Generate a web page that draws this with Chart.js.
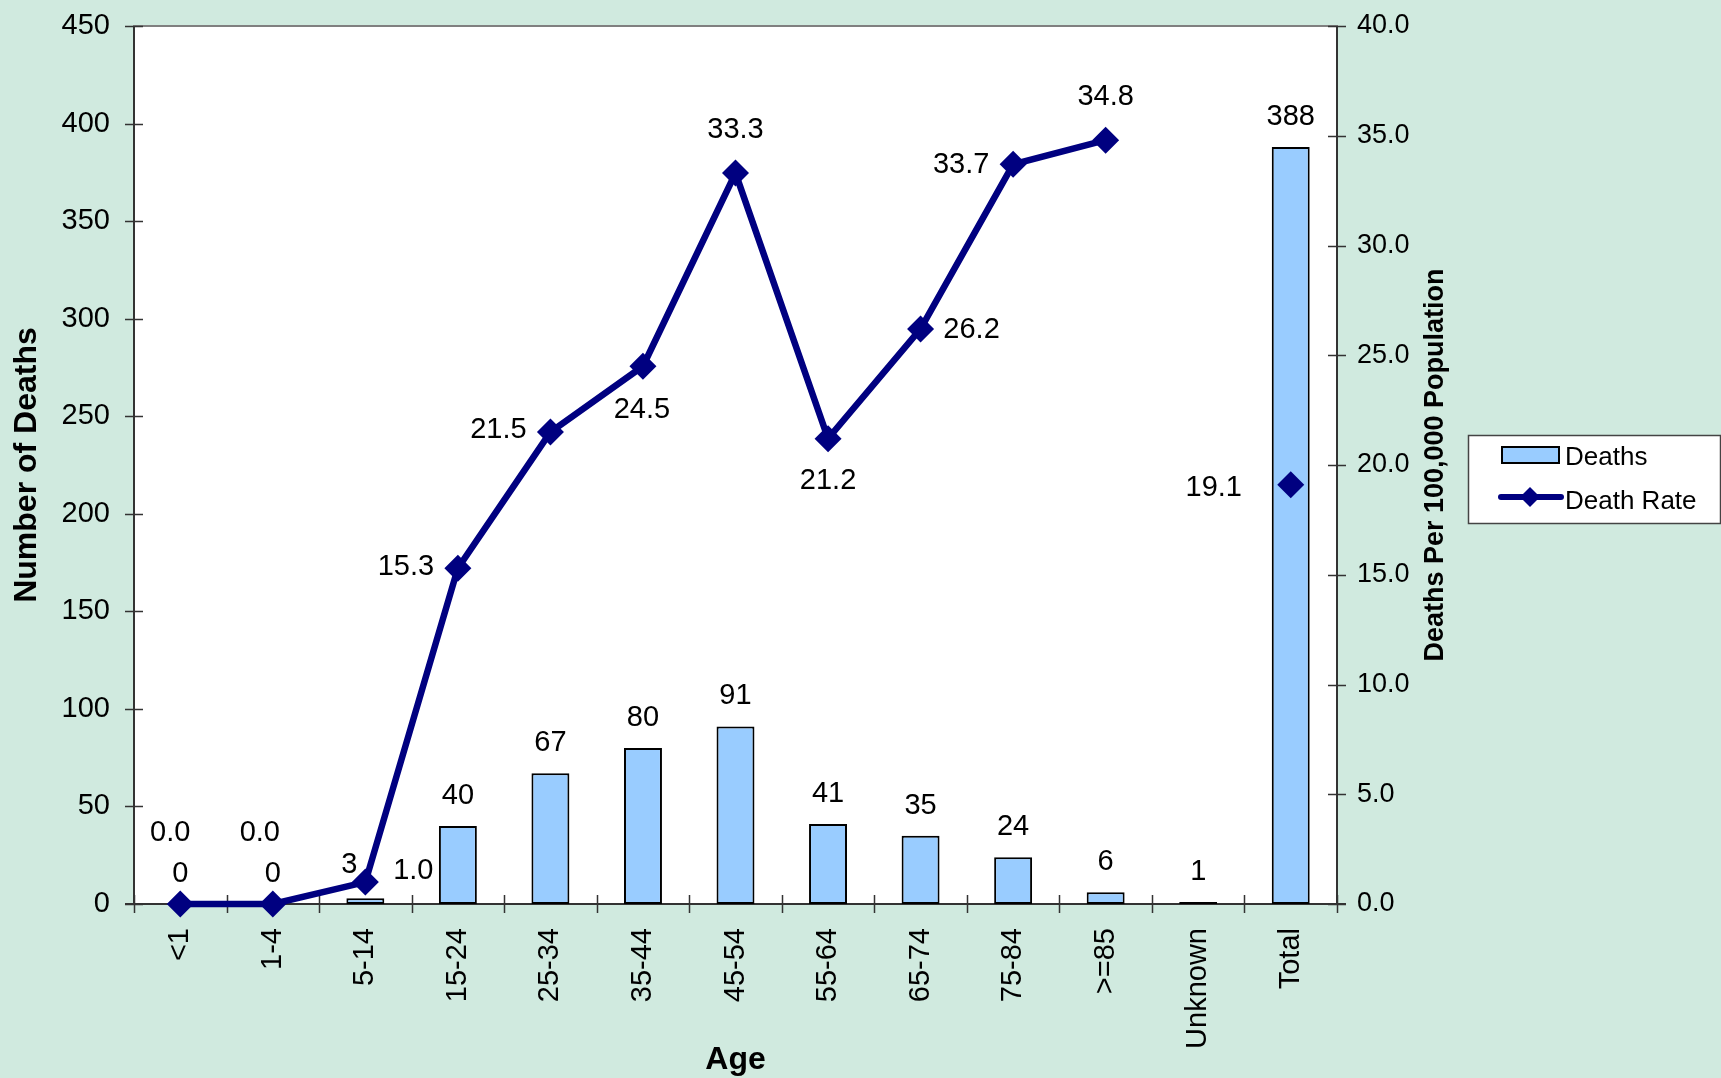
<!DOCTYPE html>
<html>
<head>
<meta charset="utf-8">
<script src="https://cdn.jsdelivr.net/npm/chart.js@4.4.1/dist/chart.umd.min.js"></script>
<style>
  html, body { margin: 0; padding: 0; background: #D0EADF; }
  canvas { display: block; }
</style>
</head>
<body>
<canvas id="c" width="1721" height="1078"></canvas>
<script>
// ---- data ----
const categories = ['<1', '1-4', '5-14', '15-24', '25-34', '35-44', '45-54', '55-64', '65-74', '75-84', '>=85', 'Unknown', 'Total'];
const deaths = [0, 0, 3, 40, 67, 80, 91, 41, 35, 24, 6, 1, 388];
const deathRate = [0.0, 0.0, 1.0, 15.3, 21.5, 24.5, 33.3, 21.2, 26.2, 33.7, 34.8, null, 19.1];
const leftTickValues = [0, 50, 100, 150, 200, 250, 300, 350, 400, 450];
const rightTickValues = [0, 5, 10, 15, 20, 25, 30, 35, 40];
const leftAxisTitle = 'Number of Deaths';
const rightAxisTitle = 'Deaths Per 100,000 Population';
const xAxisTitle = 'Age';
const seriesNames = ['Deaths', 'Death Rate'];

// ---- label placement (styling, kept apart from data) ----
const rateLabelOffsets = [[-10,-71],[-13,-71],[48,-11],[-52,-1],[-52,-2],[-1,44],[0,-43],[0,42],[51,1],[-52,1],[0,-43],null,[-77,3]];
const barLabelOffsets = [[0,-30],[0,-30],[-16,-33],[0,-30],[0,-30],[0,-30],[0,-30],[0,-30],[0,-30],[0,-30],[0,-30],[0,-30],[0,-30]];

const FONT = '"Liberation Sans", Arial, sans-serif';
const NAVY = '#000080';
const BAR = '#99CCFF';
const BG = '#D0EADF';

const decorPlugin = {
  id: 'decor',
  beforeDraw(chart) {
    const {ctx, chartArea: a} = chart;
    ctx.save();
    ctx.fillStyle = BG;
    ctx.fillRect(0, 0, chart.width, chart.height);
    ctx.fillStyle = '#FFFFFF';
    ctx.fillRect(a.left, a.top, a.right - a.left, a.bottom - a.top);
    ctx.strokeStyle = '#808080';
    ctx.lineWidth = 2;
    ctx.strokeRect(a.left, a.top, a.right - a.left, a.bottom - a.top);
    ctx.restore();
  },
  beforeDatasetsDraw(chart) {
    const {ctx, chartArea: a, scales} = chart;
    ctx.save();
    ctx.strokeStyle = '#333333';
    ctx.lineWidth = 2;
    ctx.beginPath();
    ctx.moveTo(a.left, a.top); ctx.lineTo(a.left, a.bottom);
    ctx.moveTo(a.right, a.top); ctx.lineTo(a.right, a.bottom);
    ctx.moveTo(a.left - 9, a.bottom); ctx.lineTo(a.right + 9, a.bottom);
    ctx.stroke();
    ctx.lineWidth = 1.5;
    ctx.beginPath();
    scales.y.ticks.forEach(t => {
      const y = Math.round(scales.y.getPixelForValue(t.value)) + 0.5;
      ctx.moveTo(a.left - 9, y); ctx.lineTo(a.left + 9, y);
    });
    scales.y1.ticks.forEach(t => {
      const y = Math.round(scales.y1.getPixelForValue(t.value)) + 0.5;
      ctx.moveTo(a.right - 9, y); ctx.lineTo(a.right + 9, y);
    });
    const xs = scales.x;
    for (let i = 0; i <= categories.length; i++) {
      let x;
      if (i === 0) x = a.left;
      else if (i === categories.length) x = a.right;
      else x = (xs.getPixelForValue(i - 1) + xs.getPixelForValue(i)) / 2;
      x = Math.round(x) + 0.5;
      ctx.moveTo(x, a.bottom - 9); ctx.lineTo(x, a.bottom + 9);
    }
    ctx.stroke();
    ctx.restore();
  },
  afterDraw(chart) {
    const {ctx, chartArea: a} = chart;
    ctx.save();
    ctx.fillStyle = '#000';
    ctx.textAlign = 'center';
    ctx.textBaseline = 'middle';
    ctx.font = '29px ' + FONT;
    // bar labels
    const barMeta = chart.getDatasetMeta(1);
    barMeta.data.forEach((el, i) => {
      const off = barLabelOffsets[i];
      ctx.fillText(String(deaths[i]), el.x + off[0], el.y + off[1]);
    });
    // rate labels
    const lineMeta = chart.getDatasetMeta(0);
    lineMeta.data.forEach((el, i) => {
      if (deathRate[i] === null || !rateLabelOffsets[i]) return;
      const off = rateLabelOffsets[i];
      ctx.fillText(deathRate[i].toFixed(1), el.x + off[0], el.y + off[1]);
    });
    // axis titles
    ctx.font = 'bold 32px ' + FONT;
    ctx.save();
    ctx.translate(27, (a.top + a.bottom) / 2);
    ctx.rotate(-Math.PI / 2);
    ctx.fillText(leftAxisTitle, 0, 0);
    ctx.restore();
    ctx.fillText(xAxisTitle, (a.left + a.right) / 2, 1060);
    ctx.font = 'bold 27px ' + FONT;
    ctx.save();
    ctx.translate(1436, (a.top + a.bottom) / 2);
    ctx.rotate(-Math.PI / 2);
    ctx.fillText(rightAxisTitle, 0, 0);
    ctx.restore();
    // legend
    const lx = 1468, ly = 435, lw = 252, lh = 88;
    ctx.fillStyle = '#FFFFFF';
    ctx.fillRect(lx, ly, lw, lh);
    ctx.strokeStyle = '#444444';
    ctx.lineWidth = 1.5;
    ctx.strokeRect(lx + 0.5, ly + 0.5, lw, lh);
    ctx.fillStyle = BAR;
    ctx.fillRect(1502, 447, 57, 16);
    ctx.strokeStyle = '#000';
    ctx.lineWidth = 2;
    ctx.strokeRect(1502, 447, 57, 16);
    ctx.strokeStyle = NAVY;
    ctx.lineWidth = 6;
    ctx.lineCap = 'round';
    ctx.beginPath();
    ctx.moveTo(1501, 497); ctx.lineTo(1561, 497);
    ctx.stroke();
    ctx.fillStyle = NAVY;
    ctx.beginPath();
    ctx.moveTo(1530, 487); ctx.lineTo(1540, 497); ctx.lineTo(1530, 507); ctx.lineTo(1520, 497);
    ctx.closePath(); ctx.fill();
    ctx.fillStyle = '#000';
    ctx.textAlign = 'left';
    ctx.font = '26px ' + FONT;
    ctx.fillText(seriesNames[0], 1565, 458);
    ctx.fillText(seriesNames[1], 1565, 502);
    ctx.restore();
  },
  afterDraw2() {}
};

new Chart(document.getElementById('c'), {
  type: 'bar',
  data: {
    labels: categories,
    datasets: [
      {
        type: 'line',
        label: seriesNames[1],
        data: deathRate,
        yAxisID: 'y1',
        borderColor: NAVY,
        backgroundColor: NAVY,
        borderWidth: 6.5,
        pointStyle: 'rectRot',
        pointRadius: 13.5,
        pointBorderWidth: 0,
        pointBackgroundColor: NAVY,
        tension: 0,
        spanGaps: false,
        clip: false,
        order: 0
      },
      {
        type: 'bar',
        label: seriesNames[0],
        data: deaths,
        yAxisID: 'y',
        backgroundColor: BAR,
        borderColor: '#000000',
        borderWidth: 2,
        borderSkipped: false,
        barPercentage: 0.41,
        categoryPercentage: 1.0,
        order: 1
      }
    ]
  },
  options: {
    responsive: false,
    animation: false,
    layout: { padding: { top: 26, bottom: 0, left: 0, right: 0 } },
    plugins: { legend: { display: false }, tooltip: { enabled: false }, title: { display: false } },
    scales: {
      x: {
        offset: true,
        grid: { display: false, drawTicks: false },
        border: { display: false },
        ticks: { font: { family: FONT, size: 29 }, color: '#000', minRotation: 90, maxRotation: 90, padding: 24, autoSkip: false },
        afterFit: s => { s.height = 174; }
      },
      y: {
        position: 'left',
        min: 0, max: 450,
        grid: { display: false, drawTicks: false },
        border: { display: false },
        afterBuildTicks: s => { s.ticks = leftTickValues.map(v => ({ value: v })); },
        ticks: { font: { family: FONT, size: 29, lineHeight: 0.05 }, color: '#000', padding: 24 },
        afterFit: s => { s.width = 134; s.paddingTop = 0; s.paddingBottom = 0; }
      },
      y1: {
        position: 'right',
        min: 0, max: 40,
        grid: { display: false, drawTicks: false },
        border: { display: false },
        afterBuildTicks: s => { s.ticks = rightTickValues.map(v => ({ value: v })); },
        ticks: { font: { family: FONT, size: 27, lineHeight: 0.05 }, color: '#000', padding: 20, callback: v => Number(v).toFixed(1) },
        afterFit: s => { s.width = 384; s.paddingTop = 0; s.paddingBottom = 0; }
      }
    }
  },
  plugins: [decorPlugin]
});
</script>
</body>
</html>
